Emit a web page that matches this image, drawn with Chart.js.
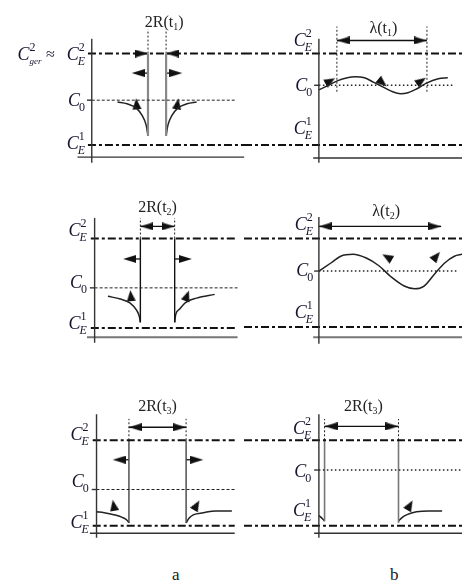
<!DOCTYPE html>
<html>
<head>
<meta charset="utf-8">
<script src="https://cdn.jsdelivr.net/npm/chart.js@4.4.0/dist/chart.umd.min.js"></script>
<style>
  html, body { margin: 0; padding: 0; background: #fff; }
  #wrap { position: relative; width: 468px; height: 587px; overflow: hidden; }
  #wrap canvas { position: absolute; }
  .cap { position: absolute; font: 17px "Liberation Serif", serif; color: #222; }
</style>
</head>
<body>
<div id="wrap">
  <div class="cap" style="left:172px;top:565px">a</div>
  <div class="cap" style="left:390px;top:565px">b</div>
</div>
<script>
// x = distance from the left axis, y = concentration scaled so that C_E^1 = 0 and C_E^2 = 1
const levelSub = ['E', '0', 'E'];
const levelSup = ['2', '', '1'];

// column a, t1
const a1Levels = [1, 0.49, 0];
const a1Walls = [59, 78];
const a1Foot = [0.10, 0.10];
const a1LeftX = [27, 37, 47, 53, 57, 59];
const a1LeftY = [0.47, 0.45, 0.40, 0.32, 0.22, 0.10];
const a1RightX = [78, 80, 84, 90, 100, 110];
const a1RightY = [0.10, 0.22, 0.32, 0.40, 0.45, 0.47];
const a1FluxX = [47, 90];
const a1FluxY = [0.45, 0.45];
const a1FluxDir = [-95, -80];

// column b, t1
const b1Levels = [1, 0.653, 0];
const b1Lambda = [19, 114];
const b1WaveX = [0, 10, 20, 30, 38, 48, 58, 70, 78, 86, 94, 103, 113, 126, 136];
const b1WaveY = [0.602, 0.653, 0.704, 0.735, 0.745, 0.735, 0.684, 0.622, 0.582, 0.561, 0.571, 0.612, 0.673, 0.724, 0.735];
const b1FluxX = [12, 67, 108];
const b1FluxY = [0.70, 0.68, 0.70];
const b1FluxDir = [-30, 40, -35];

// column a, t2
const a2Levels = [1, 0.448, 0];
const a2Walls = [48, 84];
const a2Foot = [0.0625, 0.0625];
const a2LeftX = [14, 27, 37, 44, 47, 48];
const a2LeftY = [0.354, 0.323, 0.281, 0.198, 0.125, 0.0625];
const a2RightX = [84, 85, 89, 95, 107, 126];
const a2RightY = [0.0625, 0.146, 0.208, 0.281, 0.333, 0.375];
const a2FluxX = [38, 97];
const a2FluxY = [0.36, 0.36];
const a2FluxDir = [-95, -70];

// column b, t2
const b2Levels = [1, 0.632, 0];
const b2Lambda = [0, 129];
const b2WaveX = [0, 13, 23, 36, 50, 63, 76, 90, 101, 111, 123, 133, 143, 151];
const b2WaveY = [0.632, 0.726, 0.800, 0.821, 0.779, 0.695, 0.568, 0.463, 0.432, 0.463, 0.611, 0.726, 0.800, 0.821];
const b2FluxX = [72, 124];
const b2FluxY = [0.79, 0.80];
const b2FluxDir = [-150, -50];

// column a, t3
const a3Levels = [1, 0.424, 0];
const a3Walls = [34, 94];
const a3Foot = [0.033, 0.033];
const a3LeftX = [0, 8, 18, 27, 32, 34];
const a3LeftY = [0.163, 0.152, 0.130, 0.098, 0.065, 0.033];
const a3RightX = [94, 97, 102, 112, 125, 142];
const a3RightY = [0.033, 0.087, 0.130, 0.152, 0.174, 0.174];
const a3FluxX = [18, 105];
const a3FluxY = [0.24, 0.24];
const a3FluxDir = [-100, -60];

// column b, t3
const b3Levels = [1, 0.652, 0];
const b3Walls = [6, 84];
const b3Foot = [0.054, 0.033];
const b3LeftX = [0, 4, 6];
const b3LeftY = [0.12, 0.08, 0.054];
const b3RightX = [84, 88, 93, 103, 116, 130];
const b3RightY = [0.054, 0.098, 0.130, 0.163, 0.174, 0.174];
const b3FluxX = [96];
const b3FluxY = [0.24];
const b3FluxDir = [-60];

const SERIF = '"Liberation Serif", "DejaVu Serif", serif';

const S = {
  axis: { borderColor: '#333', borderWidth: 1.4 },
  dashdot: { borderColor: '#111', borderWidth: 2, borderDash: [8, 3, 3, 3] },
  c0a: { borderColor: '#222', borderWidth: 1, borderDash: [3, 2] },
  c0b: { borderColor: '#222', borderWidth: 1.6, borderDash: [1.5, 2.5] },
  guide: { borderColor: '#222', borderWidth: 1, borderDash: [2, 2] },
  curve: { borderColor: '#222', borderWidth: 1.5, cubicInterpolationMode: 'monotone' },
  shaft: { borderColor: '#111', borderWidth: 1.3 }
};

const panels = [
  { col: 'a', box: [0, 0, 255, 178], axisX: 90, pxC1: 149, k: 98, levels: a1Levels,
    vAxis: [1.163, -0.194], hAxisY: -0.133, hAxisX: [-15, 160], ddX: [-4, 160], c0To: 150,
    walls: a1Walls, foot: a1Foot, wallStyle: { borderColor: '#888', borderWidth: 2.2 },
    guides: a1Walls, guideFrom: 1, guideTop: 1.265, inward: true,
    sideY: 0.786, sideTips: [42, 95],
    curves: [[a1LeftX, a1LeftY], [a1RightX, a1RightY]], flux: [a1FluxX, a1FluxY, a1FluxDir],
    title: ['2R(t', '1', ')'], titleX: 76, titleY: 1.296, labelX: -6, labelDy: [6, 6, 4], ger: true },
  { col: 'b', box: [238, 0, 230, 178], axisX: 317, pxC1: 149, k: 98, levels: b1Levels,
    vAxis: [1.163, -0.194], hAxisY: -0.143, hAxisX: [-6, 151], ddX: [-79, 151], c0To: 141,
    guides: b1Lambda, guideFrom: 0.582, guideTop: 1.296,
    span: b1Lambda, spanY: 1.143,
    curves: [[b1WaveX, b1WaveY]], flux: [b1FluxX, b1FluxY, b1FluxDir],
    title: ['\u03bb(t', '1', ')'], titleX: 68, titleY: 1.224, labelX: -6, labelDy: [-8, 6, -11] },
  { col: 'a', box: [0, 185, 255, 175], axisX: 93, pxC1: 332, k: 96, levels: a2Levels,
    vAxis: [1.229, -0.167], hAxisY: -0.104, hAxisX: [-8, 150], ddX: [-4, 150], c0To: 150,
    hAxisStyle: { borderColor: '#777', borderWidth: 2 },
    walls: a2Walls, foot: a2Foot, wallStyle: { borderColor: '#111', borderWidth: 1.4 },
    guides: a2Walls, guideFrom: 1, guideTop: 1.229,
    span: a2Walls, spanY: 1.135, sideY: 0.771, sideTips: [30, 102],
    curves: [[a2LeftX, a2LeftY], [a2RightX, a2RightY]], flux: [a2FluxX, a2FluxY, a2FluxDir],
    title: ['2R(t', '2', ')'], titleX: 66, titleY: 1.292, labelX: -7, labelDy: [-3, 0, 1] },
  { col: 'b', box: [238, 185, 230, 175], axisX: 317, pxC1: 331, k: 95, levels: b2Levels,
    vAxis: [1.242, -0.189], hAxisY: -0.116, hAxisX: [-6, 151], ddX: [-79, 151], c0To: 146,
    hAxisStyle: { borderColor: '#777', borderWidth: 2 },
    span: b2Lambda, spanY: 1.137,
    curves: [[b2WaveX, b2WaveY]], flux: [b2FluxX, b2FluxY, b2FluxDir],
    title: ['\u03bb(t', '2', ')'], titleX: 71, titleY: 1.253, labelX: -5, labelDy: [-9, 5, -9] },
  { col: 'a', box: [0, 385, 255, 170], axisX: 95, pxC1: 530, k: 92, levels: a3Levels,
    vAxis: [1.304, -0.141], hAxisY: -0.087, hAxisX: [-7, 145], ddX: [-4, 145], c0To: 145,
    walls: a3Walls, foot: a3Foot, wallStyle: { borderColor: '#444', borderWidth: 1.4 },
    guides: a3Walls, guideFrom: 1, guideTop: 1.25,
    span: a3Walls, spanY: 1.152, sideY: 0.772, sideTips: [17, 112],
    curves: [[a3LeftX, a3LeftY], [a3RightX, a3RightY]], flux: [a3FluxX, a3FluxY, a3FluxDir],
    title: ['2R(t', '3', ')'], titleX: 64, titleY: 1.337, labelX: -7, labelDy: [0, -3, 2] },
  { col: 'b', box: [238, 385, 230, 170], axisX: 317, pxC1: 530, k: 92, levels: b3Levels,
    vAxis: [1.304, -0.141], hAxisY: -0.087, hAxisX: [-5, 151], ddX: [-79, 151], c0To: 151,
    walls: b3Walls, foot: b3Foot, wallStyle: { borderColor: '#777', borderWidth: 1.6 },
    guides: b3Walls, guideFrom: 1, guideTop: 1.25,
    span: b3Walls, spanY: 1.163,
    curves: [[b3LeftX, b3LeftY], [b3RightX, b3RightY]], flux: [b3FluxX, b3FluxY, b3FluxDir],
    title: ['2R(t', '3', ')'], titleX: 47, titleY: 1.337, labelX: -7, labelDy: [-6, 7, -10] }
];

// arrowhead images; the tip / centre sits at the middle of the canvas
function makeHead(len, wid) {
  const c = document.createElement('canvas');
  c.width = len * 2; c.height = wid;
  const g = c.getContext('2d');
  g.fillStyle = '#111';
  g.beginPath(); g.moveTo(0, 0); g.lineTo(len, wid / 2); g.lineTo(0, wid); g.closePath(); g.fill();
  return c;
}
function makeTri(len, wid) {
  const c = document.createElement('canvas');
  c.width = len; c.height = wid;
  const g = c.getContext('2d');
  g.fillStyle = '#111';
  g.beginPath(); g.moveTo(0, 0); g.lineTo(len, wid / 2); g.lineTo(0, wid); g.closePath(); g.fill();
  return c;
}
const headImg = makeHead(13, 8);
const triImg = makeTri(11, 9);

const pts = (xs, ys) => xs.map((v, i) => ({ x: v, y: ys[i] }));
const seg = (x0, y0, x1, y1, style) =>
  Object.assign({ data: [{ x: x0, y: y0 }, { x: x1, y: y1 }], pointRadius: 0, fill: false, tension: 0 }, style);

function buildDatasets(p) {
  const L = p.levels;
  const ds = [];
  ds.push(seg(0, p.vAxis[0], 0, p.vAxis[1], S.axis));
  ds.push(seg(p.hAxisX[0], p.hAxisY, p.hAxisX[1], p.hAxisY, p.hAxisStyle || S.axis));
  ds.push(seg(p.ddX[0], L[0], p.ddX[1], L[0], S.dashdot));
  ds.push(seg(p.ddX[0], L[2], p.ddX[1], L[2], S.dashdot));
  ds.push(seg(0, L[1], p.c0To, L[1], p.col === 'a' ? S.c0a : S.c0b));
  ds.push(seg(-5, L[1], 0, L[1], S.axis));
  if (p.walls) p.walls.forEach((w, i) => ds.push(seg(w, p.foot[i], w, L[0], p.wallStyle)));
  if (p.guides) p.guides.forEach(g => ds.push(seg(g, p.guideFrom, g, p.guideTop, S.guide)));
  p.curves.forEach(([xs, ys]) =>
    ds.push(Object.assign({ data: pts(xs, ys), pointRadius: 0, fill: false }, S.curve)));

  const heads = [], rots = [];
  if (p.inward) {
    heads.push({ x: p.walls[0], y: L[0] }, { x: p.walls[1], y: L[0] });
    rots.push(0, 180);
  }
  if (p.span) {
    ds.push(seg(p.span[0], p.spanY, p.span[1], p.spanY, S.shaft));
    heads.push({ x: p.span[0], y: p.spanY }, { x: p.span[1], y: p.spanY });
    rots.push(180, 0);
  }
  if (p.sideY !== undefined) {
    ds.push(seg(p.walls[0], p.sideY, p.sideTips[0] + 6, p.sideY, S.shaft));
    ds.push(seg(p.walls[1], p.sideY, p.sideTips[1] - 6, p.sideY, S.shaft));
    heads.push({ x: p.sideTips[0], y: p.sideY }, { x: p.sideTips[1], y: p.sideY });
    rots.push(180, 0);
  }
  ds.push({ data: heads, showLine: false, pointStyle: headImg, pointRotation: rots,
            pointRadius: 5, pointHoverRadius: 5 });
  const [fx, fy, fd] = p.flux;
  ds.push({ data: pts(fx, fy), showLine: false, pointStyle: triImg, pointRotation: fd,
            pointRadius: 5, pointHoverRadius: 5 });
  return ds;
}

function drawC(ctx, xr, base, sub, sup) {
  const fC = 'italic 18px ' + SERIF;
  const fSub = (sub === 'E' ? 'italic ' : '') + '12px ' + SERIF;
  const fSup = '12px ' + SERIF;
  ctx.font = fC; const wC = ctx.measureText('C').width;
  ctx.font = fSub; const wSub = ctx.measureText(sub).width;
  ctx.font = fSup; const wSup = sup ? ctx.measureText(sup).width : 0;
  const x0 = xr - wC - Math.max(wSub, wSup);
  ctx.font = fC; ctx.fillText('C', x0, base);
  ctx.font = fSub; ctx.fillText(sub, x0 + wC - 1, base + 5);
  if (sup) { ctx.font = fSup; ctx.fillText(sup, x0 + wC, base - 9); }
  return x0;
}

const textPlugin = {
  id: 'panelText',
  afterDraw(chart, args, opts) {
    const p = opts.panel;
    const { ctx } = chart;
    const sx = chart.scales.x, sy = chart.scales.y;
    ctx.save();
    ctx.textAlign = 'left';
    ctx.textBaseline = 'alphabetic';
    ctx.fillStyle = '#15152e';
    const xr = sx.getPixelForValue(p.labelX);
    p.levels.forEach((lv, i) => {
      drawC(ctx, xr, sy.getPixelForValue(lv) + p.labelDy[i], levelSub[i], levelSup[i]);
    });
    if (p.ger) {
      const base = sy.getPixelForValue(p.levels[0]) + p.labelDy[0];
      const x0 = sx.getPixelForValue(-78);
      ctx.font = 'italic 18px ' + SERIF;
      const wC = ctx.measureText('C').width;
      ctx.fillText('C', x0, base);
      ctx.font = 'italic 9px ' + SERIF;
      ctx.fillText('ger', x0 + wC, base + 4);
      ctx.font = '12px ' + SERIF;
      ctx.fillText('2', x0 + wC, base - 9);
      ctx.font = '16px ' + SERIF;
      ctx.fillText('\u2248', sx.getPixelForValue(-48), base - 1);
    }
    // title above the panel
    const [m, s, e] = p.title;
    ctx.fillStyle = '#222';
    const fM = '16px ' + SERIF, fS = '10px ' + SERIF;
    ctx.font = fM; const wm = ctx.measureText(m).width, we = ctx.measureText(e).width;
    ctx.font = fS; const ws = ctx.measureText(s).width;
    let tx = sx.getPixelForValue(p.titleX) - (wm + ws + we) / 2;
    const tb = sy.getPixelForValue(p.titleY);
    ctx.font = fM; ctx.fillText(m, tx, tb); tx += wm;
    ctx.font = fS; ctx.fillText(s, tx, tb + 3); tx += ws;
    ctx.font = fM; ctx.fillText(e, tx, tb);
    ctx.restore();
  }
};

const wrap = document.getElementById('wrap');
panels.forEach(p => {
  const [left, top, w, h] = p.box;
  const cv = document.createElement('canvas');
  cv.width = w; cv.height = h;
  cv.style.left = left + 'px'; cv.style.top = top + 'px';
  cv.style.width = w + 'px'; cv.style.height = h + 'px';
  wrap.appendChild(cv);
  const xMin = left - p.axisX;
  const yMax = (p.pxC1 - top) / p.k;
  const yMin = (p.pxC1 - top - h) / p.k;
  new Chart(cv.getContext('2d'), {
    type: 'line',
    data: { datasets: buildDatasets(p) },
    options: {
      responsive: false,
      animation: false,
      devicePixelRatio: 1,
      layout: { padding: 0 },
      events: [],
      scales: {
        x: { type: 'linear', display: false, min: xMin, max: xMin + w },
        y: { type: 'linear', display: false, min: yMin, max: yMax }
      },
      plugins: {
        legend: { display: false },
        tooltip: { enabled: false },
        panelText: { panel: p }
      }
    },
    plugins: [textPlugin]
  });
});
</script>
</body>
</html>
